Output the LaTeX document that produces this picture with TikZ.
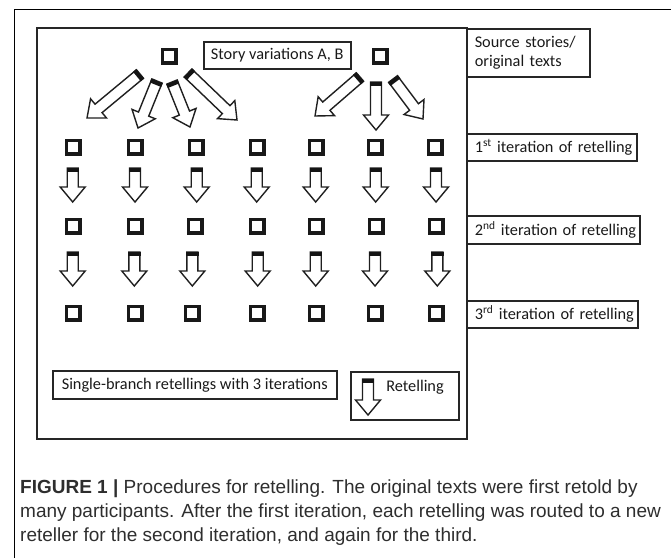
\documentclass[tikz,border=0pt]{standalone}
\usepackage{fontspec}
\setmainfont{Carlito}
\newfontfamily\capfont{Liberation Sans}
\usetikzlibrary{calc}

\newdimen\bax
\newdimen\bay
\def\aw{5.5}
\def\aH{12.5}
\def\ah{15}
\newcommand\blockarr[2]{%
  \pgfextractx{\bax}{\pgfpointdiff{\pgfpointanchor{#1}{center}}{\pgfpointanchor{#2}{center}}}%
  \pgfextracty{\bay}{\pgfpointdiff{\pgfpointanchor{#1}{center}}{\pgfpointanchor{#2}{center}}}%
  \pgfmathsetmacro\baAng{atan2(\the\bay,\the\bax)}%
  \pgfmathsetmacro\baLen{veclen(\the\bax,\the\bay)}%
  \pgfmathsetmacro\baHd{\baLen-\ah}%
  \begin{scope}[shift={(#1)}, rotate=\baAng]
    \draw[arrline] (0,-\aw) -- (\baHd,-\aw) -- (\baHd,-\aH) -- (\baLen,0)
      -- (\baHd,\aH) -- (\baHd,\aw) -- (0,\aw) -- cycle;
    \fill[arrcap] (0,-\aw-0.7) rectangle (4,\aw+0.7);
  \end{scope}}

\tikzset{
  sq/.style={draw=black!90, line width=3.5pt, minimum width=13.5pt, minimum height=13.5pt, inner sep=0pt},
  arrline/.style={draw=black!88, line width=1.4pt, fill=white, line join=miter},
  arrcap/.style={fill=black!92},
  lbl/.style={draw=black!85, line width=1.5pt, inner sep=0pt, font=\fontsize{16.3}{19}\selectfont, text=black!90},
  frame/.style={draw=black!85, line width=2pt},
  capt/.style={anchor=base west, inner sep=0pt, font=\capfont\fontsize{19}{23.5}\selectfont, text=black!82}
}

\begin{document}
\begin{tikzpicture}[x=1pt, y=-1pt]
\useasboundingbox (0,0) rectangle (671,558);
% outer caption frame
\draw[line width=0.9pt, black] (14,558) -- (14,9) -- (671,9);
% inner figure frame
\draw[frame] (37,28) rectangle (467,439);

% labels on the right
\node[lbl, anchor=north west, minimum width=123pt, minimum height=48pt, text width=107pt, align=left] (src) at (466,28) {Source stories/\\original texts};
\node[lbl, anchor=north west, minimum width=170pt, minimum height=27pt, text width=154pt, align=left] (it1) at (466,133) {\mbox{1\textsuperscript{st} iteration of retelling}};
\node[lbl, anchor=north west, minimum width=173pt, minimum height=28pt, text width=157pt, align=left] (it2) at (466,215) {\mbox{2\textsuperscript{nd} iteration of retelling}};
\node[lbl, anchor=north west, minimum width=171pt, minimum height=27pt, text width=155pt, align=left] (it3) at (466,300) {\mbox{3\textsuperscript{rd} iteration of retelling}};

% story variations
\node[lbl, anchor=north west, minimum width=147pt, minimum height=27pt] (story) at (203,41) {Story variations A, B};
\node[sq] (sA) at (169,56) {};
\node[sq] (sB) at (380,56) {};

% rows of squares
\foreach \x [count=\i] in {73,135,196,257,316,375,435} {\node[sq] (r1c\i) at (\x,147) {};}
\foreach \x [count=\i] in {73,135,195,257,316,376,436} {\node[sq] (r2c\i) at (\x,226) {};}
\foreach \x [count=\i] in {73,135,192,257,316,375,436} {\node[sq] (r3c\i) at (\x,313) {};}

% fan-out arrows from the source stories
\coordinate (a1t) at (140,74);  \coordinate (a1h) at (87,118);
\coordinate (a2t) at (157,81);  \coordinate (a2h) at (138,128);
\coordinate (a3t) at (172,82);  \coordinate (a3h) at (190,127);
\coordinate (a4t) at (188,73);  \coordinate (a4h) at (237,120);
\coordinate (b1t) at (360,77);  \coordinate (b1h) at (315,116);
\coordinate (b2t) at (376,82);  \coordinate (b2h) at (376,130);
\coordinate (b3t) at (393,79);  \coordinate (b3h) at (423,119);
\blockarr{a1t}{a1h}
\blockarr{a2t}{a2h}
\blockarr{a3t}{a3h}
\blockarr{a4t}{a4h}
\blockarr{b1t}{b1h}
\blockarr{b2t}{b2h}
\blockarr{b3t}{b3h}

% retelling arrows between iterations
\foreach \x [count=\i] in {72.7,135,196.7,256.7,315.7,375.7,436} {
  \coordinate (u\i t) at (\x,168); \coordinate (u\i h) at (\x,202);
  \blockarr{u\i t}{u\i h}
}
\foreach \x [count=\i] in {72.7,134.3,192.3,257.7,315.7,375,437.3} {
  \coordinate (v\i t) at (\x,252); \coordinate (v\i h) at (\x,286);
  \blockarr{v\i t}{v\i h}
}

% legend
\node[lbl, anchor=north west, minimum width=284pt, minimum height=28pt] (single) at (52,370) {Single-branch retellings with 3 iterations};
\node[lbl, anchor=north west, minimum width=108pt, minimum height=48pt] (legbox) at (350,371) {};
\coordinate (lgt) at (368,379); \coordinate (lgh) at (368,415);
\blockarr{lgt}{lgh}
\node[font=\fontsize{16.3}{19}\selectfont, text=black!90, inner sep=0pt] (legtxt) at (415,387) {Retelling};

% caption
\node[capt] (cap1) at (20,493) {\textbf{FIGURE 1 |} Procedures for retelling. The original texts were first retold by};
\node[capt] (cap2) at (20,517) {many participants. After the first iteration, each retelling was routed to a new};
\node[capt] (cap3) at (20,541) {reteller for the second iteration, and again for the third.};
\end{tikzpicture}
\end{document}
